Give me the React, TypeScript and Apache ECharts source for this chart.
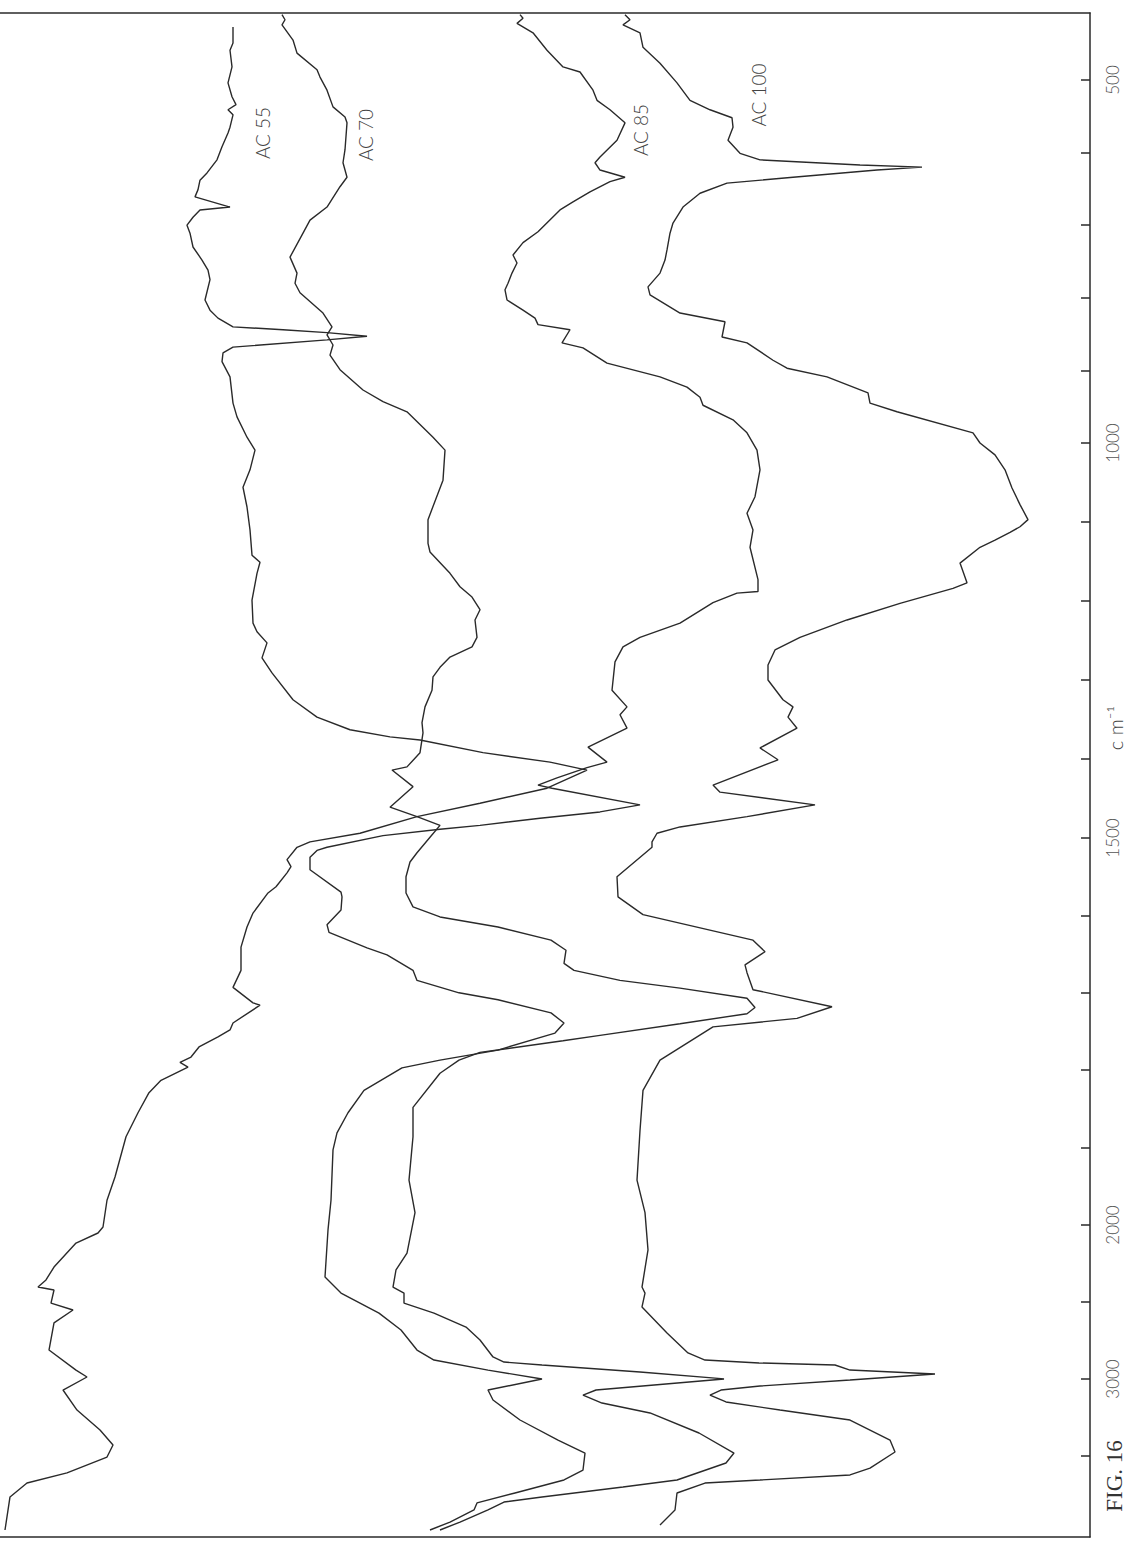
import React, { useEffect, useRef } from "react";
import * as echarts from "echarts";

// Chart-paper wavenumber scale (cm-1); scale compressed 5x above 2000 cm-1
const SCALE_WN = [400, 500, 1000, 1500, 2000, 3000, 4000];
const SCALE_U = [-2.6, 70, 433, 828, 1215, 1369, 1522];
const TICK_WN = [500, 600, 700, 800, 900, 1000, 1100, 1200, 1300, 1400, 1500, 1600, 1700, 1800, 1900, 2000, 2500, 3000, 3500];
const LABEL_WN = [500, 1000, 1500, 2000, 3000];

// [wavenumber cm-1, transmittance in chart divisions]
const AC55: number[][] = [[427,85.7],[449,85.7],[459,86.0],[482,85.8],[504,86.2],[523,85.8],[534,85.4],[541,86.2],[548,85.7],[565,86.0],[573,86.2],[592,86.8],[610,87.3],[628,88.3],[638,89.0],[651,89.2],[661,89.5],[675,86.0],[679,89.0],[689,89.7],[700,90.3],[711,90.0],[730,89.7],[748,88.8],[762,88.2],[775,88.0],[803,88.5],[817,88.0],[828,87.2],[840,85.7],[844,80.7],[848,76.3],[853,72.3],[858,76.3],[868,85.7],[876,86.7],[888,86.8],[909,86.0],[945,85.7],[964,85.3],[992,84.3],[1009,83.5],[1034,84.0],[1056,84.7],[1081,84.3],[1110,84.0],[1142,83.8],[1151,83.0],[1165,83.3],[1199,83.8],[1228,83.7],[1239,83.3],[1253,82.3],[1272,82.8],[1291,81.8],[1325,79.7],[1347,77.3],[1363,74.0],[1372,70.0],[1376,67.0],[1392,60.7],[1404,54.0],[1414,50.3],[1437,54.3],[1456,61.0],[1473,67.3],[1494,73.0],[1505,78.0],[1512,79.3],[1528,80.3],[1537,79.9],[1545,80.3],[1563,81.4],[1571,82.2],[1597,83.7],[1615,84.3],[1641,84.9],[1671,84.9],[1693,85.7],[1713,83.7],[1716,83.0],[1739,85.7],[1748,86.0],[1757,87.2],[1770,89.1],[1783,89.9],[1790,91.0],[1796,90.2],[1813,92.9],[1829,94.1],[1855,95.2],[1886,96.4],[1938,97.5],[1968,98.3],[2013,98.7],[2052,99.2],[2117,101.4],[2273,103.6],[2357,104.4],[2403,105.2],[2422,103.6],[2507,103.9],[2552,101.7],[2636,103.6],[2812,104.1],[2942,101.4],[2987,100.3],[3072,102.7],[3203,101.3],[3333,99.0],[3431,97.7],[3510,98.3],[3614,102.3],[3680,106.3],[3771,108.0],[3987,108.5]];

const AC70: number[][] = [[410,80.8],[417,80.5],[424,80.8],[445,79.7],[463,79.3],[486,77.3],[496,77.0],[514,76.3],[537,75.7],[551,74.5],[559,74.3],[596,74.5],[614,74.7],[634,74.3],[647,75.0],[675,76.3],[693,78.0],[711,78.7],[744,80.0],[766,79.3],[780,79.5],[793,79.0],[821,76.7],[840,75.8],[851,76.3],[865,75.7],[879,76.0],[899,75.0],[927,72.7],[943,70.7],[957,68.3],[992,65.7],[1009,64.5],[1047,64.7],[1097,66.2],[1127,66.2],[1138,66.0],[1165,64.0],[1182,63.0],[1195,61.8],[1211,61.0],[1224,61.5],[1246,61.3],[1258,61.8],[1271,64.0],[1284,65.0],[1296,65.7],[1313,65.8],[1334,66.5],[1354,66.8],[1367,66.7],[1392,67.0],[1410,68.3],[1414,69.8],[1435,67.7],[1461,70.0],[1473,67.3],[1484,65.0],[1499,66.0],[1519,67.3],[1531,68.0],[1550,68.4],[1571,68.4],[1589,67.7],[1602,65.0],[1615,59.2],[1632,53.9],[1645,52.4],[1662,52.6],[1671,51.6],[1684,47.0],[1694,41.0],[1707,34.3],[1719,33.5],[1727,34.3],[1740,41.0],[1755,49.0],[1762,52.7],[1777,61.0],[1787,63.1],[1804,65.0],[1848,67.7],[1886,67.7],[1942,68.1],[1984,67.5],[2182,68.3],[2292,69.4],[2403,69.7],[2442,68.6],[2507,68.6],[2572,65.6],[2663,62.4],[2747,61.0],[2857,59.7],[2890,58.6],[2909,54.8],[2955,45.0],[2994,37.5],[3000,36.6],[3072,49.4],[3105,50.7],[3157,48.8],[3222,44.0],[3353,39.1],[3484,35.6],[3549,36.4],[3660,41.3],[3706,46.7],[3771,54.8],[3804,58.6],[3856,60.2],[3935,63.0],[3987,65.0]];

const AC85: number[][] = [[410,57.0],[415,56.7],[422,57.3],[435,55.7],[459,54.3],[482,52.7],[489,51.0],[514,49.7],[528,49.3],[541,48.0],[559,46.5],[583,47.3],[606,49.0],[614,49.5],[624,49.0],[634,46.5],[640,48.0],[654,50.0],[668,51.7],[679,53.0],[709,55.2],[724,56.7],[741,57.7],[752,57.3],[766,57.8],[780,58.2],[789,58.5],[803,58.3],[817,56.7],[828,55.5],[837,55.2],[844,52.0],[862,52.8],[869,50.7],[890,48.3],[909,43.0],[923,40.3],[937,39.0],[948,38.7],[968,35.7],[986,34.3],[1009,33.3],[1034,33.0],[1068,33.5],[1089,34.3],[1110,33.7],[1132,34.0],[1173,33.2],[1188,33.2],[1190,35.3],[1202,37.7],[1228,41.0],[1246,45.0],[1258,46.7],[1277,47.5],[1313,47.8],[1334,46.3],[1344,47.0],[1361,46.3],[1385,50.2],[1404,48.3],[1411,50.3],[1424,53.3],[1433,55.2],[1437,53.8],[1458,45.0],[1467,49.0],[1475,55.0],[1484,61.0],[1489,65.0],[1497,70.7],[1512,76.3],[1516,77.3],[1525,78.0],[1541,78.0],[1570,74.9],[1576,74.8],[1593,74.9],[1612,76.3],[1622,76.1],[1642,72.3],[1651,70.3],[1671,67.7],[1684,67.3],[1700,63.1],[1709,59.2],[1726,53.9],[1739,52.6],[1752,53.5],[1774,59.2],[1787,65.0],[1797,68.8],[1826,72.6],[1855,74.2],[1881,75.3],[1903,75.7],[1968,75.9],[2032,76.2],[2338,76.5],[2442,74.9],[2572,71.1],[2682,68.9],[2812,67.3],[2877,65.6],[2942,60.2],[3000,54.8],[3072,60.2],[3137,59.7],[3268,57.0],[3399,53.2],[3484,50.5],[3595,50.7],[3660,52.6],[3745,57.5],[3810,61.3],[3856,61.6],[3935,64.0],[3987,66.0]];

const AC100: number[][] = [[410,46.5],[417,46.0],[424,46.7],[435,45.0],[455,44.7],[477,43.0],[504,41.3],[528,40.0],[541,38.0],[552,35.8],[565,35.7],[583,36.2],[601,35.0],[610,33.0],[617,23.0],[620,16.8],[624,21.3],[634,29.7],[642,36.3],[656,39.0],[675,40.7],[697,41.7],[711,42.0],[734,42.3],[748,42.5],[766,43.0],[785,44.2],[796,44.0],[821,41.0],[833,36.5],[854,36.8],[862,34.3],[886,31.7],[897,30.3],[909,26.3],[931,22.2],[945,22.0],[957,19.3],[986,11.7],[1000,11.0],[1015,9.5],[1034,8.5],[1057,7.8],[1078,7.0],[1097,6.2],[1106,7.0],[1113,8.0],[1123,9.5],[1132,11.0],[1152,13.0],[1177,12.3],[1184,13.7],[1203,19.0],[1224,24.3],[1246,29.0],[1262,31.5],[1281,32.2],[1300,32.2],[1325,30.7],[1334,29.7],[1347,30.2],[1361,29.3],[1386,33.0],[1401,31.2],[1433,37.7],[1442,37.0],[1458,27.5],[1473,34.3],[1486,41.0],[1494,43.3],[1505,43.8],[1512,43.8],[1550,47.3],[1576,47.2],[1599,44.7],[1632,33.7],[1647,32.5],[1664,34.5],[1674,34.3],[1696,33.7],[1718,25.8],[1733,29.3],[1744,37.7],[1787,43.0],[1826,44.7],[1878,45.0],[1942,45.3],[1984,44.5],[2162,44.2],[2403,44.8],[2442,44.5],[2532,44.8],[2701,42.3],[2831,40.2],[2877,38.5],[2896,33.1],[2909,25.5],[2942,24.0],[2968,15.5],[3007,24.0],[3046,33.0],[3072,36.9],[3105,38.0],[3150,36.4],[3203,31.0],[3268,24.0],[3399,20.0],[3477,19.5],[3582,22.0],[3627,24.0],[3660,33.0],[3680,38.5],[3745,41.3],[3856,41.5],[3954,43.0]];

const SERIES_NAMES = ["AC 55", "AC 70", "AC 85", "AC 100"];

function interp(v: number, xs: number[], ys: number[]): number {
  let i = 0;
  if (v <= xs[0]) i = 0;
  else if (v >= xs[xs.length - 1]) i = xs.length - 2;
  else { while (i < xs.length - 2 && v > xs[i + 1]) i++; }
  const t = (v - xs[i]) / (xs[i + 1] - xs[i]);
  return ys[i] + t * (ys[i + 1] - ys[i]);
}
const toU = (wn: number) => interp(wn, SCALE_WN, SCALE_U);
const fromU = (u: number) => interp(u, SCALE_U, SCALE_WN);

const INK = "#2a2a2a";

export default function App() {
  const ref = useRef<HTMLDivElement>(null);
  useEffect(() => {
    if (!ref.current) return;
    const chart = echarts.init(ref.current, null, { renderer: "svg" });
    const all = [AC55, AC70, AC85, AC100];
    const xBase = {
      type: "value", min: 0, max: 109, inverse: true,
      axisLine: { show: true, onZero: false, lineStyle: { color: INK, width: 1.5 } },
      axisTick: { show: false }, axisLabel: { show: false }, splitLine: { show: false },
    };
    const labelStyle = { fontFamily: "Lato", fontWeight: 300, fontSize: 19, fill: "#444", align: "center", verticalAlign: "middle" };
    chart.setOption({
      animation: false,
      backgroundColor: "#ffffff",
      grid: { left: 0, right: 49, top: 13, bottom: 9 },
      xAxis: [
        { ...xBase, position: "top" },
        { ...xBase, position: "bottom" },
      ],
      yAxis: {
        type: "value", min: 3, max: 1527, inverse: true, position: "right",
        axisLine: { show: true, onZero: false, lineStyle: { color: INK, width: 1.5 } },
        axisTick: { show: true, inside: true, length: 9, customValues: TICK_WN.map(toU), lineStyle: { color: INK, width: 1.5 } },
        axisLabel: {
          show: true, customValues: LABEL_WN.map(toU), rotate: 90, margin: 14,
          formatter: (v: number) => String(Math.round(fromU(v) / 100) * 100),
          fontFamily: "Lato", fontWeight: 300, fontSize: 17, color: "#555",
        },
        splitLine: { show: false },
      },
      series: all.map((d, i) => ({
        name: SERIES_NAMES[i], type: "line", xAxisIndex: 0, yAxisIndex: 0,
        showSymbol: false, symbol: "none", silent: true,
        lineStyle: { color: INK, width: 1.4 },
        data: d.map(([wn, t]) => [t, toU(wn)]),
      })),
      graphic: [
        { type: "text", x: 262, y: 133, rotation: Math.PI / 2, style: { ...labelStyle, text: SERIES_NAMES[0] } },
        { type: "text", x: 365, y: 135, rotation: Math.PI / 2, style: { ...labelStyle, text: SERIES_NAMES[1] } },
        { type: "text", x: 640, y: 130, rotation: Math.PI / 2, style: { ...labelStyle, text: SERIES_NAMES[2] } },
        { type: "text", x: 758, y: 95, rotation: Math.PI / 2, style: { ...labelStyle, text: SERIES_NAMES[3] } },
        { type: "text", x: 1115, y: 728, rotation: Math.PI / 2, style: { ...labelStyle, fontSize: 20, text: "c m\u207B\u00B9" } },
        { type: "text", x: 1114, y: 1476, rotation: Math.PI / 2, style: { text: "FIG. 16", fontFamily: "Liberation Serif", fontSize: 23, fill: "#333", align: "center", verticalAlign: "middle" } },
      ],
    });
    return () => chart.dispose();
  }, []);
  return (
    <div
      ref={ref}
      style={{ position: "absolute", left: 0, top: 0, width: 1139, height: 1546, background: "#fff" }}
    />
  );
}
